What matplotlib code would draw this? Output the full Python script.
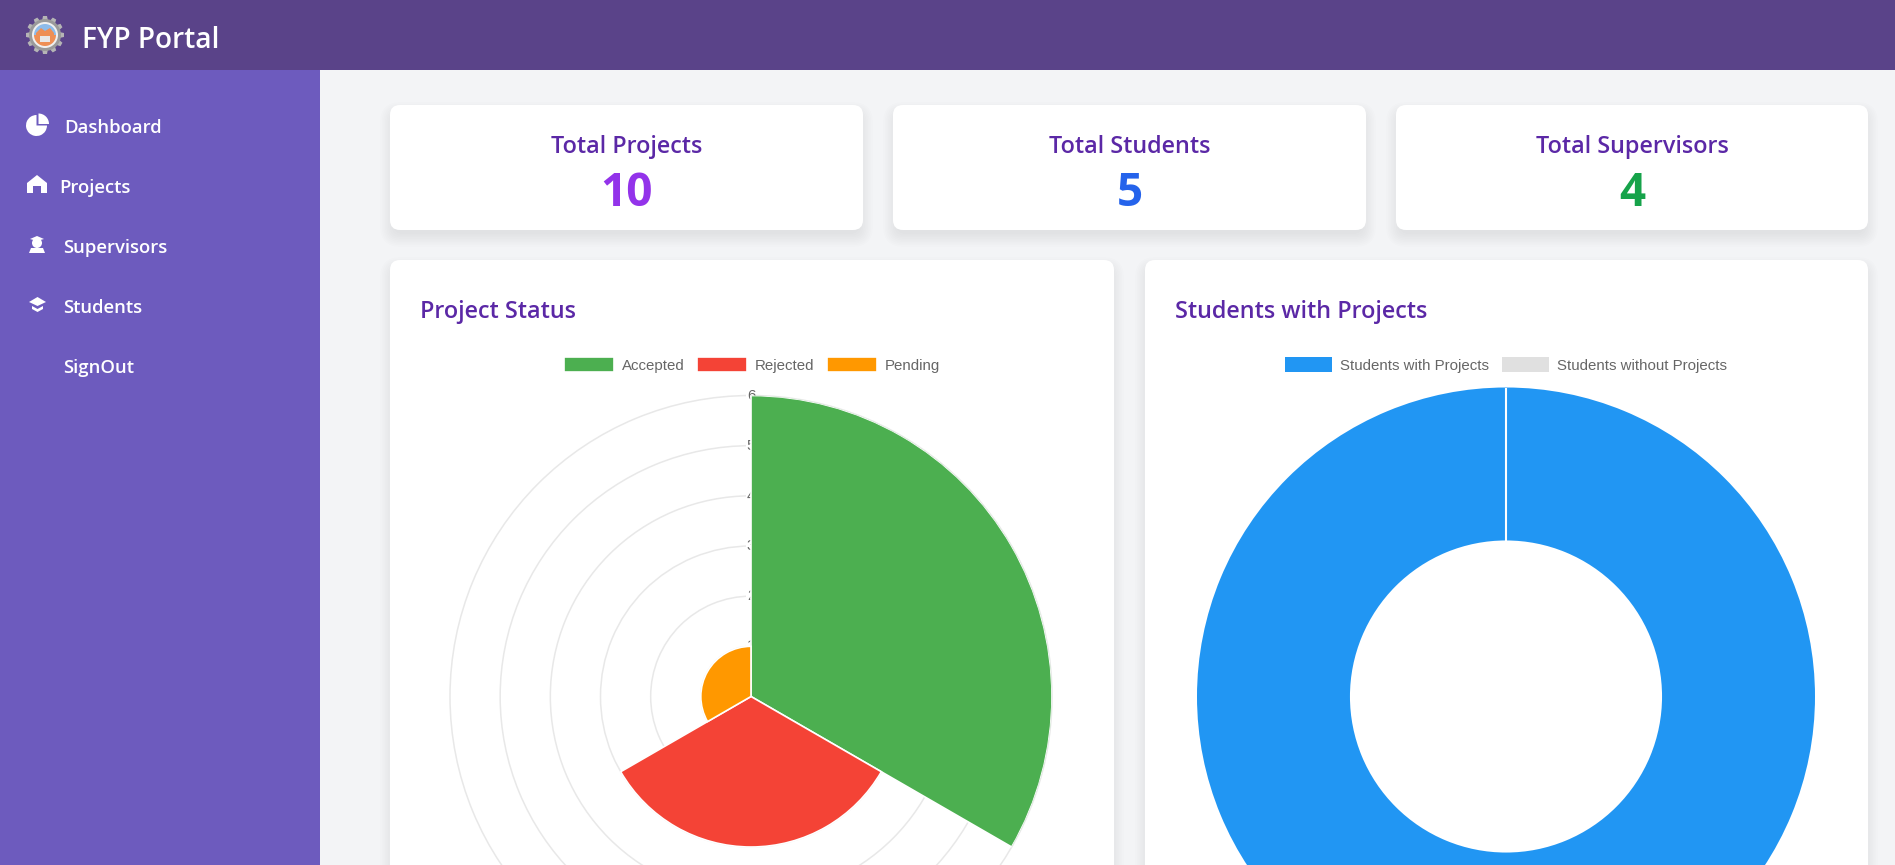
import numpy as np
import matplotlib
matplotlib.use('Agg')
import matplotlib.pyplot as plt
from matplotlib.patches import FancyBboxPatch, Wedge, Circle, Polygon, Rectangle

W, H = 1895, 865

# datos
stat_titles = ['Total Projects', 'Total Students', 'Total Supervisors']
stat_values = ['10', '5', '4']
stat_colors = ['#9333EA', '#2563EB', '#16A34A']

menu_items = ['Dashboard', 'Projects', 'Supervisors', 'Students', 'SignOut']

status_labels = ['Accepted', 'Rejected', 'Pending']
status_values = [6, 3, 1]
status_colors = ['#4CAF50', '#F44336', '#FF9800']
radial_ticks = [1, 2, 3, 4, 5, 6]

students_labels = ['Students with Projects', 'Students without Projects']
students_values = [5, 0]
students_colors = ['#2196F3', '#E0E0E0']

UI_FONT = 'Open Sans'
CHART_FONT = 'Liberation Sans'
PURPLE = '#5B28A6'

fig = plt.figure(figsize=(W / 100, H / 100), dpi=100, facecolor='#F3F4F6')
bg = fig.add_axes([0, 0, 1, 1], zorder=-1)
bg.set_xlim(0, W)
bg.set_ylim(H, 0)
bg.axis('off')


def card(x0, y0, x1, y1):
    # sombra suave debajo de la tarjeta
    for i in range(9):
        g = i * 1.6 - 3
        bg.add_patch(FancyBboxPatch((x0 - g, y0 + 7 - g), x1 - x0 + 2 * g, y1 - y0 + 2 * g,
                                    boxstyle=f'round,pad=0,rounding_size={10 + max(g, 0)}',
                                    fc='black', ec='none', alpha=0.008))
    bg.add_patch(FancyBboxPatch((x0, y0), x1 - x0, y1 - y0,
                                boxstyle='round,pad=0,rounding_size=10', fc='white', ec='none'))


# cabecera y barra lateral
bg.add_patch(Rectangle((0, 0), W, 70, fc='#5A4389', ec='none'))
bg.add_patch(Rectangle((0, 70), 320, H - 70, fc='#6D5BBE', ec='none'))
bg.text(82, 40.5, 'FYP Portal', family=UI_FONT, fontsize=20.2, weight='semibold', color='white', va='center')

# logo
for a in np.arange(0, 360, 30):
    c, s = np.cos(np.radians(a)), np.sin(np.radians(a))
    bg.add_patch(Polygon([(45 + 14 * c - 3 * s, 35 + 14 * s + 3 * c), (45 + 19 * c - 2 * s, 35 + 19 * s + 2 * c),
                          (45 + 19 * c + 2 * s, 35 + 19 * s - 2 * c), (45 + 14 * c + 3 * s, 35 + 14 * s - 3 * c)],
                         fc='#B5B5B5', ec='none'))
bg.add_patch(Circle((45, 35), 16, fc='#9A9A9A', ec='none'))
bg.add_patch(Circle((45, 35), 13, fc='#F0F0F0', ec='none'))
bg.add_patch(Wedge((45, 35), 11, 180, 360, fc='#8DBBEA', ec='none'))
bg.add_patch(Wedge((45, 35), 11, 0, 180, fc='#EE8F55', ec='none'))
bg.add_patch(Polygon([(36, 33), (41, 28), (45, 31), (50, 28), (54, 33), (54, 38), (36, 38)], fc='#EE8F55', ec='none'))
bg.add_patch(Rectangle((40, 36), 10, 6, fc='#E8E8E8', ec='none'))

# iconos del menu
bg.add_patch(Wedge((36.5, 125.5), 10.5, 0, 270, fc='white', ec='none'))
bg.add_patch(Wedge((38.5, 124), 10.5, 270, 360, fc='white', ec='none'))
bg.add_patch(Polygon([(27, 183), (37, 175), (47, 183), (47, 193), (41, 193), (41, 186), (33, 186), (33, 193), (27, 193)],
                     fc='white', ec='none'))
bg.add_patch(Circle((37, 243), 5, fc='white', ec='none'))
bg.add_patch(Polygon([(30, 239), (37, 236), (44, 239), (37, 241)], fc='white', ec='none'))
bg.add_patch(Polygon([(29, 253), (31, 248), (43, 248), (45, 253)], fc='white', ec='none'))
bg.add_patch(Polygon([(29, 302), (37.5, 297), (46, 302), (37.5, 306)], fc='white', ec='none'))
bg.add_patch(Polygon([(32, 306), (37.5, 309), (43, 306), (43, 309), (37.5, 312), (32, 309)], fc='white', ec='none'))

menu_x = [64.5, 59, 63.5, 63.5, 63.5]
for i, item in enumerate(menu_items):
    bg.text(menu_x[i], 128 + i * 60, item, family=UI_FONT, fontsize=13.3, weight='semibold',
            color='white', va='center')

# tarjetas de totales
stat_x = [(390, 863), (893, 1366), (1396, 1868)]
for (x0, x1), t, v, c in zip(stat_x, stat_titles, stat_values, stat_colors):
    card(x0, 105, x1, 230)
    bg.text((x0 + x1) / 2, 147, t, family=UI_FONT, fontsize=16.8, color=PURPLE, weight='semibold', ha='center', va='center')
    bg.text((x0 + x1) / 2, 193, v, family=UI_FONT, fontsize=33, color=c, weight='bold', ha='center', va='center')

# tarjetas de graficos
card(390, 260, 1114, 920)
card(1145, 260, 1868, 920)
bg.text(420, 311.5, 'Project Status', family=UI_FONT, fontsize=16.8, color=PURPLE, weight='semibold', va='center')
bg.text(1175, 311.5, 'Students with Projects', family=UI_FONT, fontsize=16.8, color=PURPLE, weight='semibold', va='center')

# grafico polar de estados
cx, cy, R = 751, 696.5, 301
ax1 = fig.add_axes([(cx - R) / W, (H - cy - R) / H, 2 * R / W, 2 * R / H], projection='polar')
ax1.patch.set_alpha(0)
ax1.set_theta_zero_location('N')
ax1.set_theta_direction(-1)
n = len(status_values)
thetas = (np.arange(n) + 0.5) * 2 * np.pi / n
bars = ax1.bar(thetas, status_values, width=2 * np.pi / n, color=status_colors, edgecolor='white', linewidth=1.2, zorder=2)
ax1.set_ylim(0, max(radial_ticks))
ax1.set_yticks(radial_ticks)
ax1.set_yticklabels([])
ax1.set_xticks([])
ax1.set_axisbelow(True)
ax1.yaxis.grid(True, color='#E8E8E8', linewidth=1.1)
for line in ax1.yaxis.get_gridlines():
    line.set_clip_on(False)
ax1.spines['polar'].set_visible(False)
for r in radial_ticks:
    ax1.text(0, r, str(r), family=CHART_FONT, fontsize=10.8, color='#666666', ha='center', va='center',
             zorder=1, bbox=dict(fc='white', ec='none', pad=0.8))
fig.legend(bars.patches, status_labels, ncol=3, loc='center', bbox_to_anchor=(752 / W, 1 - 365 / H), frameon=False,
           prop={'family': CHART_FONT, 'size': 10.8}, labelcolor='#666666', handlelength=3.33, handleheight=1.15,
           handletextpad=0.5, columnspacing=0.87, borderpad=0, borderaxespad=0)

# dona de estudiantes
cx2, cy2, R2 = 1506, 696.5, 309
ax2 = fig.add_axes([(cx2 - R2) / W, (H - cy2 - R2) / H, 2 * R2 / W, 2 * R2 / H])
wedges, _ = ax2.pie(students_values, colors=students_colors, startangle=90, counterclock=False, radius=1,
                    wedgeprops=dict(width=0.495, edgecolor='none', clip_on=False))
ax2.set_xlim(-1, 1)
ax2.set_ylim(-1, 1)
ax2.plot([0, 0], [0.505, 1.0], color='white', linewidth=1.5)  # separacion entre segmentos
fig.legend(wedges, students_labels, ncol=2, loc='center', bbox_to_anchor=(1506 / W, 1 - 365 / H), frameon=False,
           prop={'family': CHART_FONT, 'size': 10.8}, labelcolor='#666666', handlelength=3.1, handleheight=1.15,
           handletextpad=0.55, columnspacing=0.87, borderpad=0, borderaxespad=0)

fig.savefig('out.png', dpi=100, facecolor=fig.get_facecolor())
